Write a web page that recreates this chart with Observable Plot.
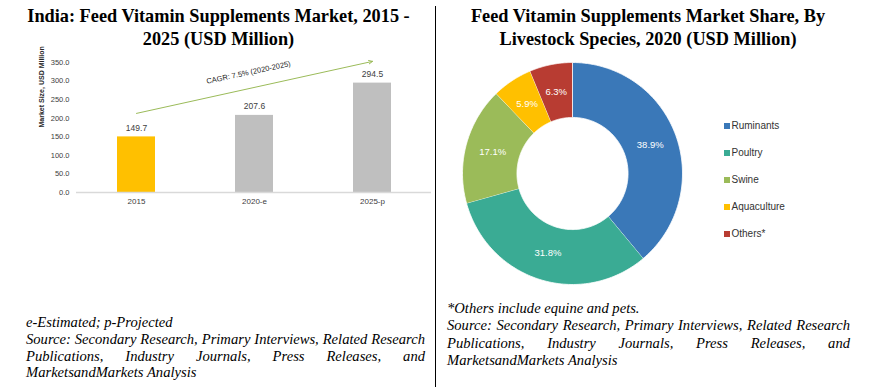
<!DOCTYPE html>
<html><head><meta charset="utf-8">
<script src="https://cdn.jsdelivr.net/npm/d3@7"></script>
<script src="https://cdn.jsdelivr.net/npm/@observablehq/plot@0.6"></script>
<style>
body{margin:0;background:#fff;}
#page{position:relative;width:891px;height:387px;overflow:hidden;background:#fff;}
.title{position:absolute;top:5px;font-family:"Liberation Serif","Times New Roman",serif;font-weight:bold;font-size:18.3px;line-height:23px;text-align:center;color:#000;z-index:2;}
.note{position:absolute;font-family:"Liberation Serif","Times New Roman",serif;font-style:italic;font-size:14.6px;line-height:16.8px;color:#000;z-index:2;}
.just{text-align:justify;text-align-last:left;}
.panel{position:absolute;top:0;}
.panel svg{background:transparent !important;}
#divider{position:absolute;left:435px;top:6px;width:1px;height:381px;background:#000;}
#legend{position:absolute;left:724px;top:112px;font-family:"Liberation Sans",Arial,sans-serif;font-size:10px;color:#333;z-index:2;}
#legend .row{display:flex;align-items:center;height:27px;}
#legend .sw{width:6px;height:6px;margin-right:1.5px;}
</style></head>
<body>
<div id="page">
  <div class="panel" id="left"></div>
  <div class="panel" id="right" style="left:437px"></div>
  <div class="title" style="left:0;width:437px;">India: Feed Vitamin Supplements Market, 2015 -<br>2025 (USD Million)</div>
  <div class="title" style="left:437px;width:422px;">Feed Vitamin Supplements Market Share, By<br>Livestock Species, 2020 (USD Million)</div>
  <div id="divider"></div>
  <div id="legend"></div>
  <div class="note" style="left:26px;top:314px;width:399px;">
    <div>e-Estimated; p-Projected</div>
    <div class="just">Source: Secondary Research, Primary Interviews, Related Research Publications, Industry Journals, Press Releases, and MarketsandMarkets Analysis</div>
  </div>
  <div class="note" style="left:447px;top:300px;width:403px;line-height:17.4px;">
    <div>*Others include equine and pets.</div>
    <div class="just">Source: Secondary Research, Primary Interviews, Related Research Publications, Industry Journals, Press Releases, and MarketsandMarkets Analysis</div>
  </div>
</div>
<script>
// ---- Left chart data ----
const years = ["2015", "2020-e", "2025-p"];
const marketSize = [149.7, 207.6, 294.5];
const barColors = ["#FFC000", "#BFBFBF", "#BFBFBF"];
const yTicks = [0, 50, 100, 150, 200, 250, 300, 350];
const yAxisLabel = "Market Size, USD Million";
const cagrLabel = "CAGR: 7.5% (2020-2025)";
const cagrFrom = ["2015", 213];
const cagrTo = ["2025-p", 353];
const cagrLabelAt = ["2020-e", 323];

// ---- Right chart data ----
const species = ["Ruminants", "Poultry", "Swine", "Aquaculture", "Others*"];
const shares = [38.9, 31.8, 17.1, 5.9, 6.3];
const speciesColors = ["#3A78B8", "#3AAB94", "#9BBB59", "#FFC000", "#B83C32"];

// ---- Left chart ----
const bars = years.map((y, i) => ({year: y, value: marketSize[i], color: barColors[i]}));
const left = Plot.plot({
  width: 437, height: 220,
  marginTop: 62, marginBottom: 28, marginLeft: 76, marginRight: 6,
  style: {background: "transparent", fontFamily: "'Liberation Sans', Arial, sans-serif"},
  x: {domain: years, paddingInner: 0.68, paddingOuter: 0.34, axis: null},
  y: {domain: [0, 350], axis: null},
  color: {type: "identity"},
  marks: [
    Plot.barY(bars, {x: "year", y: "value", fill: "color"}),
    Plot.ruleY([0], {stroke: "#D9D9D9", strokeWidth: 1.5}),
    Plot.axisY({ticks: yTicks, tickFormat: d3.format(".1f"), tickSize: 0, tickPadding: 7, line: true, stroke: "#D9D9D9", fill: "#404040", fontSize: 7.5, label: null}),
    Plot.axisX({tickSize: 0, tickPadding: 6, fill: "#404040", fontSize: 8, label: null}),
    Plot.text([yAxisLabel], {frameAnchor: "left", dx: -35, rotate: -90, fontSize: 7, fontWeight: "bold", fill: "#262626", fontFamily: "'Liberation Sans Narrow', 'Arial Narrow', sans-serif"}),
    Plot.text(bars, {x: "year", y: "value", text: d => d.value.toFixed(1), dy: -9, fontSize: 8.5, fill: "#404040"}),
    Plot.arrow([{}], {x1: () => cagrFrom[0], y1: () => cagrFrom[1], x2: () => cagrTo[0], y2: () => cagrTo[1], stroke: "#9BBB59", strokeWidth: 1, headLength: 6, headAngle: 50}),
    Plot.text([cagrLabel], {x: () => cagrLabelAt[0], y: () => cagrLabelAt[1], dx: -6, rotate: -12, fontSize: 7.5, fill: "#262626"})
  ]
});
document.getElementById("left").appendChild(left);

// ---- Right chart (donut) ----
const total = d3.sum(shares);
let cum = 0;
const slices = species.map((name, i) => {
  const a0 = cum / total * 2 * Math.PI;
  cum += shares[i];
  const a1 = cum / total * 2 * Math.PI;
  return {name, share: shares[i], color: speciesColors[i], a0, a1};
});
const rOuter = 1, rInner = 0.505, steps = 90;
const ringPts = [];
for (const s of slices) {
  for (let k = 0; k <= steps; k++) {
    const a = s.a0 + (s.a1 - s.a0) * k / steps;
    ringPts.push({name: s.name, color: s.color, x: rOuter * Math.sin(a), y: rOuter * Math.cos(a)});
  }
  for (let k = steps; k >= 0; k--) {
    const a = s.a0 + (s.a1 - s.a0) * k / steps;
    ringPts.push({name: s.name, color: s.color, x: rInner * Math.sin(a), y: rInner * Math.cos(a)});
  }
}
const rMid = (rOuter + rInner) / 2;
const right = Plot.plot({
  width: 454, height: 387,
  style: {background: "transparent", fontFamily: "'Liberation Sans', Arial, sans-serif"},
  x: {domain: [-1, 1], range: [25, 245], axis: null},
  y: {domain: [-1, 1], range: [284, 62], axis: null},
  color: {type: "identity"},
  marks: [
    Plot.line(ringPts, {x: "x", y: "y", z: "name", fill: "color", stroke: "white", strokeWidth: 0.8, curve: "linear"}),
    Plot.text(slices, {
      x: d => rMid * Math.sin((d.a0 + d.a1) / 2),
      y: d => rMid * Math.cos((d.a0 + d.a1) / 2),
      text: d => d.share.toFixed(1) + "%",
      fill: "white", fontSize: 9.5
    })
  ]
});
document.getElementById("right").appendChild(right);

// legend
const legend = d3.select("#legend");
species.forEach((s, i) => {
  const row = legend.append("div").attr("class", "row");
  row.append("div").attr("class", "sw").style("background", speciesColors[i]);
  row.append("span").text(s);
});
</script>
</body></html>
